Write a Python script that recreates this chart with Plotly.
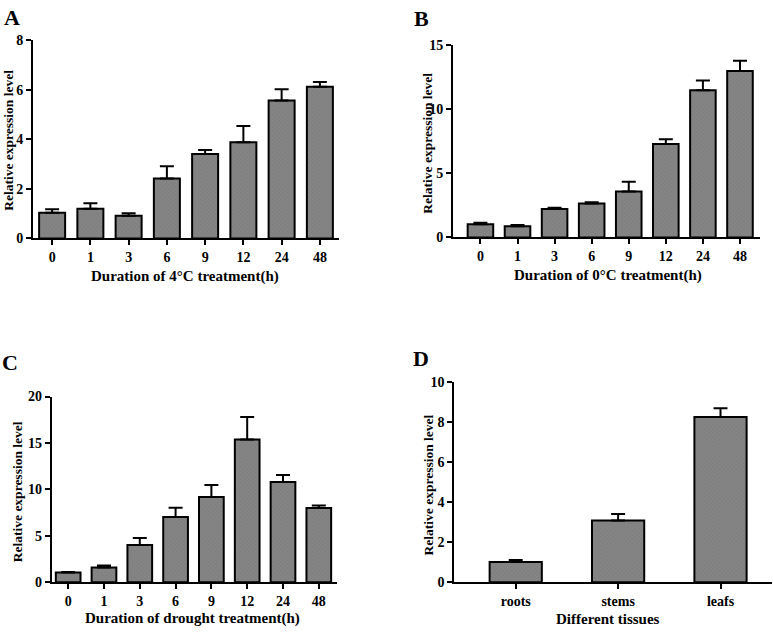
import plotly.graph_objects as go

W, H = 773, 633

# ---- data ----
time_labels = ["0", "1", "3", "6", "9", "12", "24", "48"]
a_vals = [1.03, 1.20, 0.91, 2.42, 3.41, 3.88, 5.57, 6.12]
a_err = [0.15, 0.22, 0.10, 0.49, 0.16, 0.66, 0.45, 0.19]
b_vals = [1.02, 0.88, 2.21, 2.64, 3.58, 7.28, 11.47, 12.97]
b_err = [0.12, 0.08, 0.10, 0.10, 0.76, 0.38, 0.76, 0.81]
c_vals = [1.05, 1.61, 4.03, 7.04, 9.18, 15.38, 10.79, 7.99]
c_err = [0.07, 0.21, 0.73, 0.98, 1.29, 2.41, 0.77, 0.28]
tissue_labels = ["roots", "stems", "leafs"]
d_vals = [1.02, 3.09, 8.26]
d_err = [0.09, 0.32, 0.44]

panel_letters = ["A", "B", "C", "D"]
x_titles = ["Duration of 4\u00b0C treatment(h)", "Duration of 0\u00b0C treatment(h)",
            "Duration of drought treatment(h)", "Different tissues"]
y_title = "Relative expression level"

FONT = "Liberation Serif, Times New Roman, serif"

def px_x(p):
    return p / W

def px_y(p):
    return (H - p) / H

panels = [
    dict(x0=33, x1=339, yb=237, yt=34, xr=[-0.5, 7.5], yr=[0, 8], dt=2, gap=0.32,
         cats=time_labels, vals=a_vals, err=a_err),
    dict(x0=453, x1=760, yb=236, yt=39, xr=[-0.74, 7.54], yr=[0, 15], dt=5, gap=0.31,
         cats=time_labels, vals=b_vals, err=b_err),
    dict(x0=51.7, x1=336.7, yb=589.3, yt=399, xr=[-0.46, 7.5], yr=[0, 20], dt=5, gap=0.31,
         cats=time_labels, vals=c_vals, err=c_err),
    dict(x0=454.3, x1=771.7, yb=589.3, yt=384.3, xr=[-0.6, 2.5], yr=[0, 10], dt=2, gap=0.49,
         cats=tissue_labels, vals=d_vals, err=d_err),
]

fig = go.Figure()
layout = dict(width=W, height=H, margin=dict(l=0, r=0, t=0, b=0),
              paper_bgcolor="white", plot_bgcolor="white", showlegend=False,
              font=dict(family=FONT, color="black"))

for i, p in enumerate(panels):
    n = i + 1
    xa = "x" if n == 1 else f"x{n}"
    ya = "y" if n == 1 else f"y{n}"
    fig.add_trace(go.Bar(
        x=p["cats"], y=p["vals"], xaxis=xa, yaxis=ya, width=1 - p["gap"],
        marker=dict(color="#7d7d7d", line=dict(color="black", width=2),
                    pattern=dict(shape="x", size=3, solidity=0.25,
                                 fgcolor="#6a6a6a", bgcolor="#858585")),
        error_y=dict(type="data", symmetric=False, array=p["err"],
                     arrayminus=[0] * len(p["err"]), color="black",
                     thickness=2, width=7),
    ))
    xkey = "xaxis" if n == 1 else f"xaxis{n}"
    ykey = "yaxis" if n == 1 else f"yaxis{n}"
    layout[xkey] = dict(domain=[px_x(p["x0"]), px_x(p["x1"])], anchor=ya,
                        type="category", range=p["xr"], showgrid=False,
                        showline=True, linecolor="black", linewidth=2,
                        ticks="outside", ticklen=5, tickwidth=2, tickcolor="black",
                        tickfont=dict(family=FONT, size=14, weight="bold", color="black"),
                        zeroline=False, fixedrange=True)
    layout[ykey] = dict(domain=[px_y(p["yb"]), px_y(p["yt"])], anchor=xa,
                        range=p["yr"], dtick=p["dt"], showgrid=False,
                        showline=True, linecolor="black", linewidth=2,
                        ticks="outside", ticklen=5, tickwidth=2, tickcolor="black",
                        tickfont=dict(family=FONT, size=14, weight="bold", color="black"),
                        zeroline=False, fixedrange=True)

fig.update_layout(**layout)

# panel letters
letter_pos = [(12, 11), (422, 12), (10, 364), (421, 360)]
for L, (lx, ly) in zip(panel_letters, letter_pos):
    fig.add_annotation(text=L, x=px_x(lx), y=px_y(ly), xref="paper", yref="paper",
                       showarrow=False, xanchor="center", yanchor="middle",
                       font=dict(family=FONT, size=22, weight="bold", color="black"))

# x titles
xt_pos = [(185, 276), (608, 275), (192, 626), (608, 627)]
for t, (tx, ty) in zip(x_titles, xt_pos):
    fig.add_annotation(text=t, x=px_x(tx), y=px_y(ty), xref="paper", yref="paper",
                       showarrow=False, xanchor="center", yanchor="middle",
                       font=dict(family=FONT, size=15, weight="bold", color="black"))

# y titles
yt_pos = [(9, 137), (428, 140), (17, 497), (428, 490)]
for (tx, ty) in yt_pos:
    fig.add_annotation(text=y_title, x=px_x(tx), y=px_y(ty), xref="paper", yref="paper",
                       showarrow=False, textangle=-90, xanchor="center", yanchor="middle",
                       font=dict(family=FONT, size=13.5, weight="bold", color="black"))

fig.write_html("out.html", config={"displayModeBar": False},
               post_script="document.body.style.margin='0px';")
